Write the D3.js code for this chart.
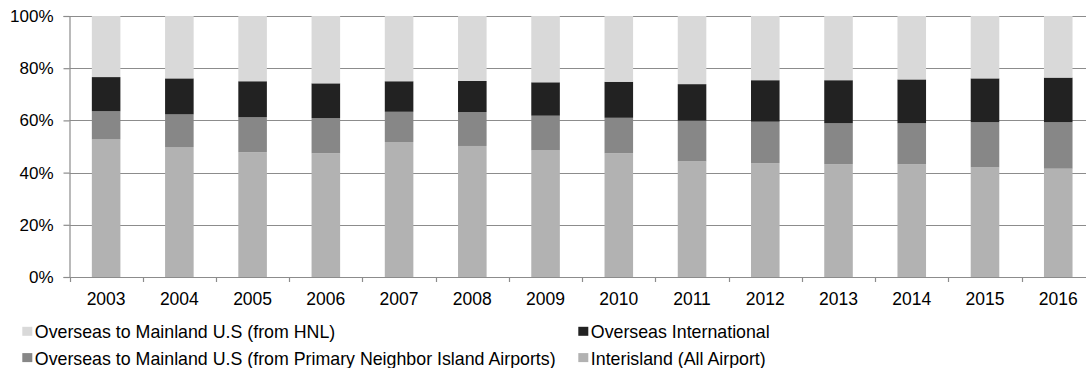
<!DOCTYPE html>
<html>
<head>
<meta charset="utf-8">
<script src="https://cdn.jsdelivr.net/npm/d3@7"></script>
<style>
  html, body { margin: 0; padding: 0; background: #fff; }
  svg { display: block; font-family: "Liberation Sans", Arial, sans-serif; }
</style>
</head>
<body>
<svg id="chart" width="1086" height="368"></svg>
<script>
// Share of passengers by market segment (percent of total), 2003-2016
const years = ["2003","2004","2005","2006","2007","2008","2009","2010","2011","2012","2013","2014","2015","2016"];
const interisland   = [52.7, 49.8, 47.8, 47.4, 51.7, 50.2, 48.5, 47.4, 44.3, 43.6, 43.2, 43.2, 42.0, 41.5];
const neighborIsl   = [10.8, 12.5, 13.4, 13.5, 11.6, 13.0, 13.3, 13.6, 15.6, 15.9, 15.7, 15.7, 17.3, 17.8];
const international = [13.1, 13.8, 13.8, 13.3, 11.7, 11.9, 12.8, 13.8, 14.0, 15.9, 16.5, 16.8, 16.8, 17.1];
const mainlandHNL   = [23.4, 23.9, 25.0, 25.8, 25.0, 24.9, 25.4, 25.2, 26.1, 24.6, 24.6, 24.3, 23.9, 23.6];
const yTicks = [0, 20, 40, 60, 80, 100];

const seriesNames = [
  "Interisland (All Airport)",
  "Overseas to Mainland U.S (from Primary Neighbor Island Airports)",
  "Overseas International",
  "Overseas to Mainland U.S (from HNL)"
];
const seriesColors = ["#b2b2b2", "#878787", "#222222", "#d9d9d9"];
const seriesValues = [interisland, neighborIsl, international, mainlandHNL];

const rows = years.map((yr, i) => {
  const r = { year: yr };
  seriesNames.forEach((n, k) => r[n] = seriesValues[k][i]);
  return r;
});
const stacked = d3.stack().keys(seriesNames)(rows);

const svg = d3.select("#chart");
const plotLeft = 69.5, plotTop = 16, plotBottom = 277;
const step = 73.24;
const plotRight = plotLeft + step * years.length;

const x = d3.scaleBand().domain(years).range([plotLeft, plotRight]).paddingInner(0).paddingOuter(0);
const y = d3.scaleLinear().domain([0, 100]).range([plotBottom, plotTop]);
const barW = x.bandwidth() * 0.39;

// Horizontal gridlines
svg.append("g").selectAll("line").data(yTicks.filter(t => t > 0)).join("line")
  .attr("x1", plotLeft).attr("x2", plotRight)
  .attr("y1", d => Math.round(y(d)) + 0.5).attr("y2", d => Math.round(y(d)) + 0.5)
  .attr("stroke", "#8c8c8c").attr("stroke-width", 1.2);

// Stacked bars
svg.append("g").selectAll("g").data(stacked).join("g")
  .attr("fill", (d, i) => seriesColors[i])
  .selectAll("rect").data(d => d).join("rect")
  .attr("x", d => x(d.data.year) + (x.bandwidth() - barW) / 2)
  .attr("width", barW)
  .attr("y", d => y(d[1]))
  .attr("height", d => y(d[0]) - y(d[1]));

// Y axis
const yAxis = d3.axisLeft(y).tickValues(yTicks).tickFormat(d => d + "%").tickSize(6).tickPadding(10);
const gy = svg.append("g").attr("transform", `translate(${plotLeft},0)`).call(yAxis);
gy.select(".domain").attr("stroke", "#8c8c8c").attr("stroke-width", 1.2);
gy.selectAll(".tick line").attr("stroke", "#8c8c8c").attr("stroke-width", 1.2);
gy.selectAll("text").attr("font-size", 17).attr("fill", "#000")
  .attr("font-family", "Liberation Sans, Arial, sans-serif");

// X axis: baseline, boundary ticks, year labels
const gx = svg.append("g");
gx.append("line").attr("x1", plotLeft).attr("x2", plotRight)
  .attr("y1", plotBottom + 0.5).attr("y2", plotBottom + 0.5)
  .attr("stroke", "#8c8c8c").attr("stroke-width", 1.2);
const bounds = years.map(yr => x(yr)).concat([plotRight]);
gx.selectAll("line.tk").data(bounds).join("line").attr("class", "tk")
  .attr("x1", d => Math.round(d) + 0.5).attr("x2", d => Math.round(d) + 0.5)
  .attr("y1", plotBottom).attr("y2", plotBottom + 5)
  .attr("stroke", "#8c8c8c").attr("stroke-width", 1.2);
gx.selectAll("text").data(years).join("text")
  .attr("x", d => x(d) + x.bandwidth() / 2)
  .attr("y", 305.3)
  .attr("text-anchor", "middle").attr("font-size", 17.5).attr("fill", "#000")
  .text(d => d);

// Legend (two columns, two rows)
const legendItems = [
  { name: seriesNames[3], color: seriesColors[3], lx: 22.3, ly: 338.3 },
  { name: seriesNames[2], color: seriesColors[2], lx: 578.3, ly: 338.3 },
  { name: seriesNames[1], color: seriesColors[1], lx: 22.3, ly: 364.6 },
  { name: seriesNames[0], color: seriesColors[0], lx: 578.3, ly: 364.6 }
];
const lg = svg.append("g").selectAll("g").data(legendItems).join("g")
  .attr("transform", d => `translate(${d.lx},${d.ly})`);
lg.append("rect").attr("x", 0).attr("y", -11.5).attr("width", 10).attr("height", 9)
  .attr("fill", d => d.color);
lg.append("text").attr("x", 12.5).attr("y", 0).attr("font-size", 17.8).attr("fill", "#000")
  .text(d => d.name);
</script>
</body>
</html>
